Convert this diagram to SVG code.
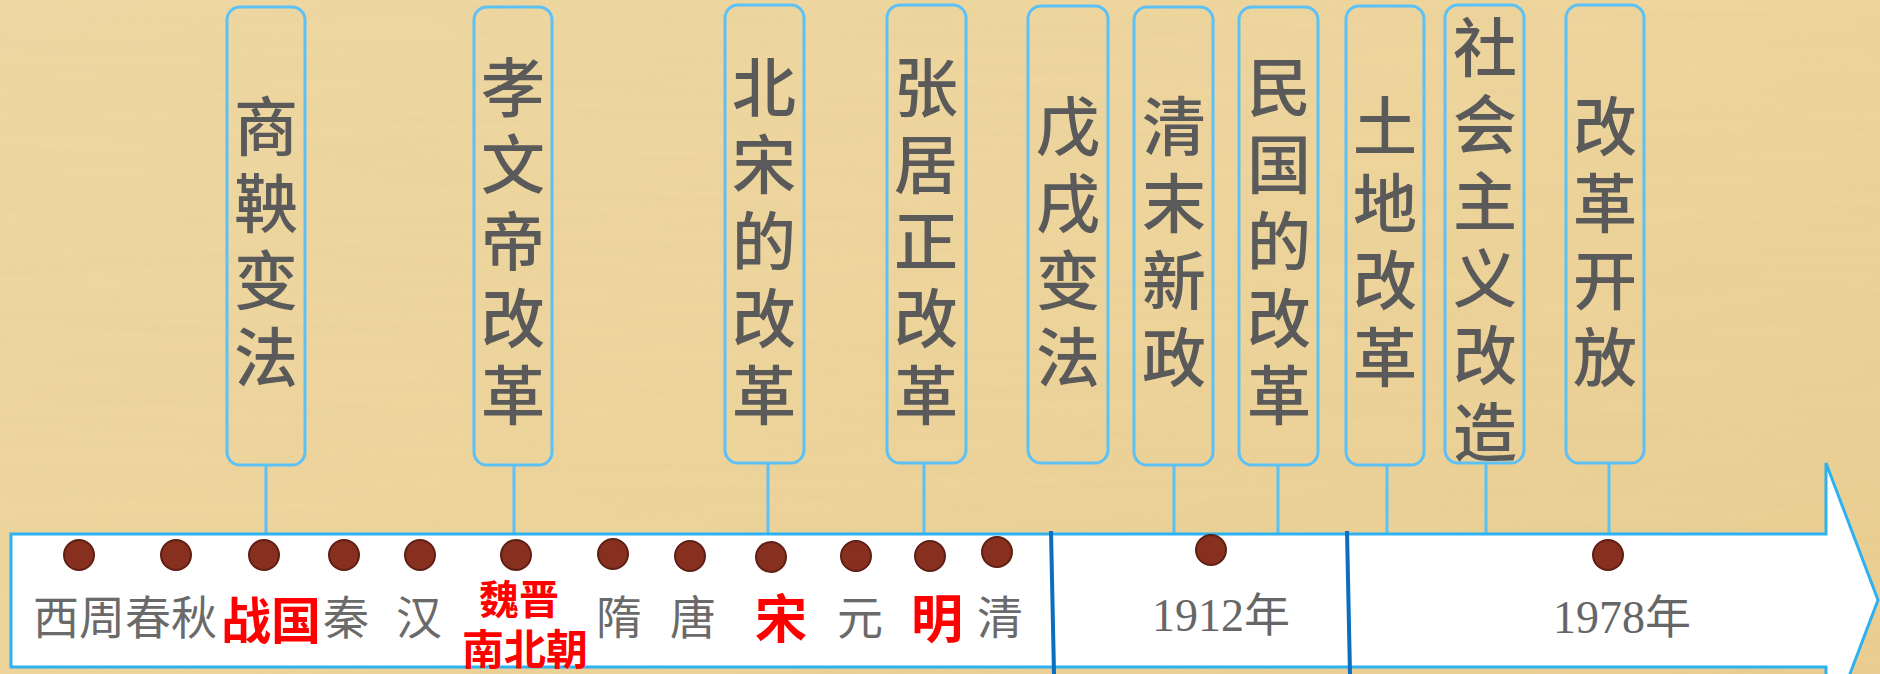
<svg xmlns="http://www.w3.org/2000/svg" width="1880" height="674" viewBox="0 0 1880 674">
<defs>
<linearGradient id="bg" x1="0" y1="0" x2="1" y2="1">
<stop offset="0" stop-color="#EFD8A3"/>
<stop offset="0.5" stop-color="#EED59C"/>
<stop offset="1" stop-color="#EACE92"/>
</linearGradient>
<filter id="tex" x="0" y="0" width="100%" height="100%">
<feTurbulence type="fractalNoise" baseFrequency="0.004 0.08" numOctaves="3" seed="4"/>
<feColorMatrix type="matrix" values="0 0 0 0 0.55  0 0 0 0 0.42  0 0 0 0 0.2  0 0 0 0.35 -0.05"/>
</filter>
<style>
.box{fill:none;stroke:#5BC1F6;stroke-width:3}
.con{stroke:#5BC1F6;stroke-width:3;fill:none}
.lbl{font-family:"Noto Sans CJK SC",sans-serif;font-size:64px;font-weight:500;fill:#5A5A5A;text-anchor:middle}
.era{font-family:"Noto Sans CJK SC",sans-serif;font-size:46px;fill:#6A6A6A}
.red{font-family:"Noto Sans CJK SC",sans-serif;font-weight:bold;fill:#FF0000}
.yr{font-family:"Liberation Serif","Noto Sans CJK SC",serif;font-size:46px;fill:#666666;text-anchor:middle}
.dot{fill:#88301F;stroke:#5E1F14;stroke-width:2}
.div{stroke:#0A6FC0;stroke-width:4}
</style>
</defs>
<rect width="1880" height="674" fill="url(#bg)"/>
<rect width="1880" height="674" filter="url(#tex)" opacity="0.3"/>

<g id="connectors">
<line class="con" x1="266" y1="465" x2="266" y2="535"/>
<line class="con" x1="514" y1="465" x2="514" y2="535"/>
<line class="con" x1="768" y1="463" x2="768" y2="535"/>
<line class="con" x1="924" y1="463" x2="924" y2="535"/>
<line class="con" x1="1174" y1="465" x2="1174" y2="535"/>
<line class="con" x1="1278" y1="465" x2="1278" y2="535"/>
<line class="con" x1="1387" y1="465" x2="1387" y2="535"/>
<line class="con" x1="1486" y1="463" x2="1486" y2="535"/>
<line class="con" x1="1609" y1="463" x2="1609" y2="535"/>
</g>

<g id="timeline">
<path d="M11,534 H1826 V463 L1878,600 L1826,737 V667 H11 Z" fill="#FFFFFF" stroke="#2DB1F1" stroke-width="3"/>
<line class="div" x1="1051" y1="531" x2="1054" y2="674"/>
<line class="div" x1="1347" y1="531" x2="1350" y2="674"/>
</g>

<g id="dots">
<circle class="dot" cx="79" cy="555" r="15"/>
<circle class="dot" cx="176" cy="555" r="15"/>
<circle class="dot" cx="264" cy="555" r="15"/>
<circle class="dot" cx="344" cy="555" r="15"/>
<circle class="dot" cx="420" cy="555" r="15"/>
<circle class="dot" cx="516" cy="555" r="15"/>
<circle class="dot" cx="613" cy="554" r="15"/>
<circle class="dot" cx="690" cy="556" r="15"/>
<circle class="dot" cx="771" cy="557" r="15"/>
<circle class="dot" cx="856" cy="556" r="15"/>
<circle class="dot" cx="930" cy="556" r="15"/>
<circle class="dot" cx="997" cy="552" r="15"/>
<circle class="dot" cx="1211" cy="550" r="15"/>
<circle class="dot" cx="1608" cy="555" r="15"/>
</g>

<g id="eras">
<text class="era" x="33" y="634">西周春秋</text>
<text class="red" x="221" y="639" font-size="50">战国</text>
<text class="era" x="323" y="634">秦</text>
<text class="era" x="396" y="634">汉</text>
<text class="red" x="519" y="614" font-size="40" text-anchor="middle">魏晋</text>
<text class="red" x="525" y="665" font-size="42" text-anchor="middle">南北朝</text>
<text class="era" x="596" y="634">隋</text>
<text class="era" x="670" y="634">唐</text>
<text class="red" x="755" y="638" font-size="52">宋</text>
<text class="era" x="837" y="634">元</text>
<text class="red" x="911" y="638" font-size="52">明</text>
<text class="era" x="977" y="634">清</text>
<text class="yr" x="1221" y="631">1912年</text>
<text class="yr" x="1622" y="633">1978年</text>
</g>

<g id="n-shangyang">
<rect class="box" x="227" y="7" width="78" height="458" rx="13"/>
<text class="lbl"><tspan x="266" y="150">商</tspan><tspan x="266" y="227">鞅</tspan><tspan x="266" y="304">变</tspan><tspan x="266" y="381">法</tspan></text>
</g>
<g id="n-xiaowendi">
<rect class="box" x="474" y="7" width="78" height="458" rx="13"/>
<text class="lbl"><tspan x="513" y="111">孝</tspan><tspan x="513" y="188">文</tspan><tspan x="513" y="265">帝</tspan><tspan x="513" y="342">改</tspan><tspan x="513" y="419">革</tspan></text>
</g>
<g id="n-beisong">
<rect class="box" x="725" y="5" width="79" height="458" rx="13"/>
<text class="lbl"><tspan x="764" y="111">北</tspan><tspan x="764" y="188">宋</tspan><tspan x="764" y="265">的</tspan><tspan x="764" y="342">改</tspan><tspan x="764" y="419">革</tspan></text>
</g>
<g id="n-zhangjuzheng">
<rect class="box" x="887" y="5" width="79" height="458" rx="13"/>
<text class="lbl"><tspan x="926" y="111">张</tspan><tspan x="926" y="188">居</tspan><tspan x="926" y="265">正</tspan><tspan x="926" y="342">改</tspan><tspan x="926" y="419">革</tspan></text>
</g>
<g id="n-wuxu">
<rect class="box" x="1028" y="6" width="80" height="457" rx="13"/>
<text class="lbl"><tspan x="1068" y="150">戊</tspan><tspan x="1068" y="227">戌</tspan><tspan x="1068" y="304">变</tspan><tspan x="1068" y="381">法</tspan></text>
</g>
<g id="n-qingmo">
<rect class="box" x="1134" y="7" width="79" height="458" rx="13"/>
<text class="lbl"><tspan x="1174" y="150">清</tspan><tspan x="1174" y="227">末</tspan><tspan x="1174" y="304">新</tspan><tspan x="1174" y="381">政</tspan></text>
</g>
<g id="n-minguo">
<rect class="box" x="1239" y="7" width="79" height="458" rx="13"/>
<text class="lbl"><tspan x="1279" y="111">民</tspan><tspan x="1279" y="188">国</tspan><tspan x="1279" y="265">的</tspan><tspan x="1279" y="342">改</tspan><tspan x="1279" y="419">革</tspan></text>
</g>
<g id="n-tudi">
<rect class="box" x="1346" y="6" width="78" height="459" rx="13"/>
<text class="lbl"><tspan x="1385" y="150">土</tspan><tspan x="1385" y="227">地</tspan><tspan x="1385" y="304">改</tspan><tspan x="1385" y="381">革</tspan></text>
</g>
<g id="n-shehuizhuyi">
<rect class="box" x="1445" y="5" width="79" height="458" rx="13"/>
<text class="lbl"><tspan x="1485" y="71">社</tspan><tspan x="1485" y="148">会</tspan><tspan x="1485" y="225">主</tspan><tspan x="1485" y="302">义</tspan><tspan x="1485" y="379">改</tspan><tspan x="1485" y="456">造</tspan></text>
</g>
<g id="n-gaige">
<rect class="box" x="1566" y="5" width="78" height="458" rx="13"/>
<text class="lbl"><tspan x="1605" y="150">改</tspan><tspan x="1605" y="227">革</tspan><tspan x="1605" y="304">开</tspan><tspan x="1605" y="381">放</tspan></text>
</g>
</svg>
